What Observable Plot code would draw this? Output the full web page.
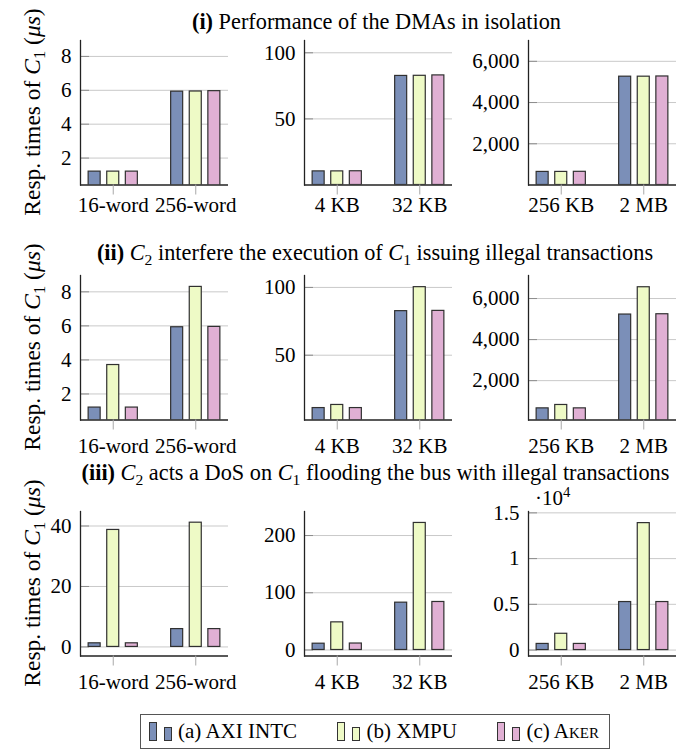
<!DOCTYPE html>
<html><head><meta charset="utf-8">
<script src="https://cdn.jsdelivr.net/npm/d3@7"></script>
<script src="https://cdn.jsdelivr.net/npm/@observablehq/plot@0.6"></script>
<style>
body{margin:0;background:#fff;font-family:"Liberation Serif","DejaVu Serif",serif;color:#000;}
#root{position:relative;width:694px;height:751px;overflow:hidden;background:#fff;}
.title,.ylab,.note{position:absolute;white-space:nowrap;font-size:21px;line-height:1;}
.title{transform:translate(-50%,-50%);font-size:22.3px;}
.ylab{transform:translate(-50%,-50%) rotate(-90deg);font-size:23.5px;}
.note{transform:translate(0,-50%);}
sub{font-size:70%;vertical-align:-0.3em;line-height:0;}
sup{font-size:70%;vertical-align:0.5em;line-height:0;}
.panel{position:absolute;}
.legend{position:absolute;border:1.3px solid #555;box-sizing:border-box;display:flex;align-items:center;justify-content:space-between;padding:0 10px 0 8px;font-size:21px;}
.item{display:flex;align-items:center;}
.ic{display:flex;align-items:flex-end;height:19px;margin-right:6px;}
.ic span{display:block;border:1.2px solid #333;box-sizing:border-box;}
</style></head>
<body><div id="root"></div>
<script>
// ---- data ----
const seriesNames = ["(a) AXI INTC", "(b) XMPU", "(c) Aker"];
const seriesColors = ["#7b8fb8", "#eefac6", "#e0b0d4"];
const wordSizes = ["16-word", "256-word"];
const kbSizes = ["4 KB", "32 KB"];
const mbSizes = ["256 KB", "2 MB"];
// values per size: [AXI INTC, XMPU, Aker]
const isoWord = [[1.2, 1.2, 1.2], [5.92, 5.93, 5.95]];
const isoKB = [[10.3, 10.3, 10.4], [82.5, 82.6, 82.9]];
const isoMB = [[635, 635, 640], [5255, 5255, 5265]];
const intWord = [[1.2, 3.7, 1.2], [5.92, 8.29, 5.94]];
const intKB = [[11.0, 13.3, 11.0], [82.5, 100.2, 82.7]];
const intMB = [[650, 815, 650], [5220, 6550, 5235]];
const dosWord = [[1.2, 38.7, 1.2], [5.9, 41.1, 5.9]];
const dosKB = [[11.0, 48.3, 11.3], [82.7, 222, 83.9]];
const dosMB = [[670, 1780, 670], [5250, 13880, 5250]];
const wordTicks = [2, 4, 6, 8];
const kbTicks = [50, 100];
const mbTicks = [2000, 4000, 6000];
const dosWordTicks = [0, 20, 40];
const dosKBTicks = [0, 100, 200];
const dosMBTicks = [0, 5000, 10000, 15000];

// ---- layout ----
const FONT = "'Liberation Serif', 'DejaVu Serif', serif";
const root = document.getElementById("root");
const colLeft = [80, 303.5, 527.5];
const rowTop = [40, 275, 511];
const FW = 148, FH = 144.5;
const mL = 70, mR = 10, mT = 30, mB = 45;

const rows = [
  {title: "<b>(i)</b> Performance of the DMAs in isolation", tx: 376.5, ty: 21.7, pad: 2,
   panels: [
     {cats: wordSizes, vals: isoWord, domain: [0.41, 8.94], ticks: wordTicks},
     {cats: kbSizes, vals: isoKB, domain: [0, 109.3], ticks: kbTicks},
     {cats: mbSizes, vals: isoMB, domain: [0, 7010], ticks: mbTicks}]},
  {title: "<b>(ii)</b> <i>C</i><sub>2</sub> interfere the execution of <i>C</i><sub>1</sub> issuing illegal transactions", tx: 375, ty: 253.3, pad: 8.5,
   panels: [
     {cats: wordSizes, vals: intWord, domain: [0.47, 8.96], ticks: wordTicks},
     {cats: kbSizes, vals: intKB, domain: [2.2, 108.8], ticks: kbTicks},
     {cats: mbSizes, vals: intMB, domain: [83, 7122], ticks: mbTicks}]},
  {title: "<b>(iii)</b> <i>C</i><sub>2</sub> acts a DoS on <i>C</i><sub>1</sub> flooding the bus with illegal transactions", tx: 375.5, ty: 473.3, pad: 8.5,
   panels: [
     {cats: wordSizes, vals: dosWord, domain: [-3, 44.8], ticks: dosWordTicks},
     {cats: kbSizes, vals: dosKB, domain: [-10.5, 242], ticks: dosKBTicks},
     {cats: mbSizes, vals: dosMB, domain: [-650, 15150], ticks: dosMBTicks, fmt: d => d3.format("")(d / 1e4)}]}
];

function makePanel(p, pad) {
  const data = [];
  p.cats.forEach((c, i) => p.vals[i].forEach((v, j) => data.push({size: c, series: seriesNames[j], value: v})));
  return Plot.plot({
    width: mL + FW + mR, height: mT + FH + mB,
    marginLeft: mL, marginRight: mR, marginTop: mT, marginBottom: mB,
    style: {fontFamily: FONT, fontSize: "21px", background: "transparent", overflow: "visible", color: "black"},
    x: {type: "band", domain: p.cats, paddingInner: 0.8545, paddingOuter: 0.324, align: 0.5, round: false},
    y: {domain: p.domain},
    marks: [
      Plot.gridY(p.ticks, {stroke: "#c9c9c9", strokeOpacity: 1, strokeWidth: 1}),
      Plot.ruleY(p.ticks, {insetRight: FW - 9, stroke: "#8c8c8c", strokeWidth: 1}),
      ...seriesNames.map((s, j) => Plot.barY(data.filter(d => d.series === s), {
        x: "size", y1: 0, y2: "value", fill: seriesColors[j], stroke: "#303030", strokeWidth: 1.2,
        dx: (j - 1) * 18.6, clip: true})),
      Plot.ruleY([p.domain[0]], {stroke: "#222", strokeWidth: 1.3}),
      Plot.frame({anchor: "left", stroke: "#222", strokeWidth: 1.3}),
      Plot.axisY(p.ticks, {tickSize: 0, tickPadding: 9, tickFormat: p.fmt || d3.format(","), label: null, fontSize: 21, fontFamily: FONT}),
      Plot.axisX({tickSize: 10, tickPadding: pad, stroke: "#a8a8a8", fill: "black", label: null, fontSize: 21, fontFamily: FONT})
    ]
  });
}

rows.forEach((r, ri) => {
  const t = document.createElement("div");
  t.className = "title";
  t.style.left = r.tx + "px"; t.style.top = r.ty + "px";
  t.innerHTML = r.title;
  root.appendChild(t);
  const yl = document.createElement("div");
  yl.className = "ylab";
  yl.style.left = "33px"; yl.style.top = (rowTop[ri] + FH / 2) + "px";
  yl.innerHTML = "Resp. times of <i>C</i><sub>1</sub> (<i>μs</i>)";
  root.appendChild(yl);
  r.panels.forEach((p, ci) => {
    const el = makePanel(p, r.pad);
    el.classList.add("panel");
    el.style.left = (colLeft[ci] - mL) + "px";
    el.style.top = (rowTop[ri] - mT) + "px";
    root.appendChild(el);
  });
});

// ·10^4 multiplier
const note = document.createElement("div");
note.className = "note";
note.style.left = "535px"; note.style.top = "498px";
note.innerHTML = "·10<sup>4</sup>";
root.appendChild(note);

// legend
const lg = document.createElement("div");
lg.className = "legend";
lg.style.left = "140px"; lg.style.top = "714px"; lg.style.width = "470px"; lg.style.height = "35px";
const labelsHtml = ["(a) AXI INTC", "(b) XMPU", "(c) A<span style=\"font-variant:small-caps\">ker</span>"];
seriesNames.forEach((s, j) => {
  const it = document.createElement("div");
  it.className = "item";
  it.innerHTML = `<div class="ic"><span style="width:8px;height:19px;background:${seriesColors[j]};margin-right:7px"></span><span style="width:8px;height:14px;background:${seriesColors[j]}"></span></div><div>${labelsHtml[j]}</div>`;
  lg.appendChild(it);
});
root.appendChild(lg);
</script>
</body></html>
